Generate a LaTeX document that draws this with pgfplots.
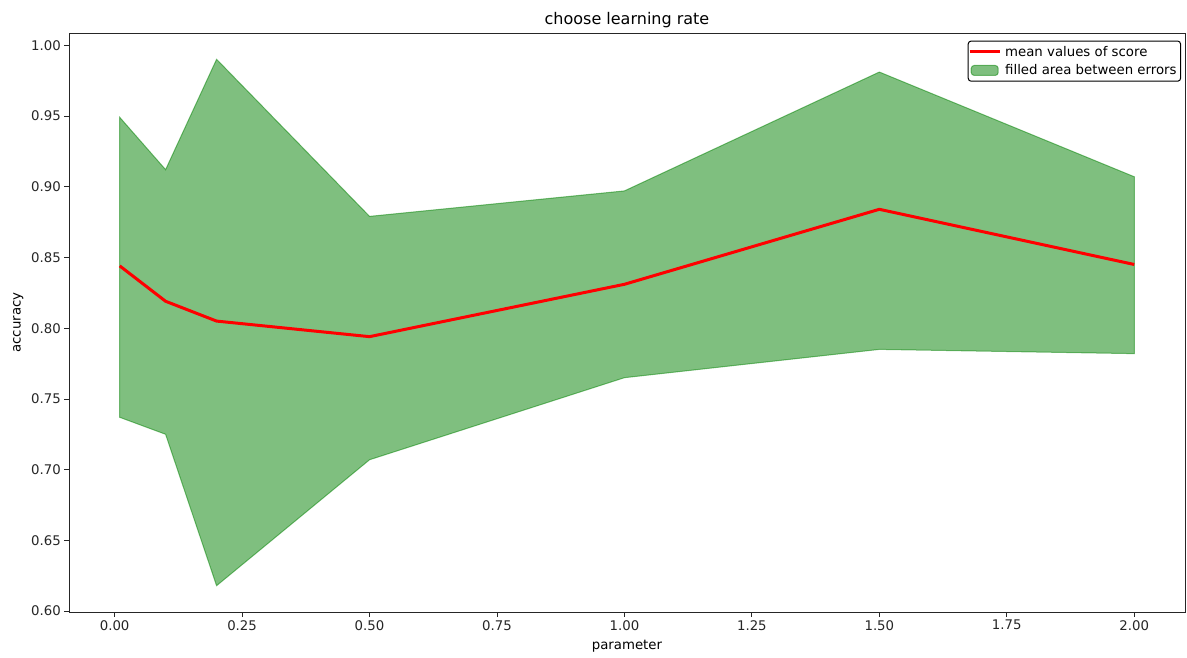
\documentclass[border=0pt]{standalone}
\usepackage{pgfplots}
\pgfplotsset{compat=1.18}
\usepgfplotslibrary{fillbetween}
\usepackage{fontspec}
\setmainfont{DejaVu Sans}
\definecolor{mplgreen}{RGB}{0,128,0}
\definecolor{axcol}{RGB}{38,38,38}
\begin{document}
\begin{tikzpicture}
\begin{axis}[
  at={(0pt,0pt)}, anchor=south west,
  scale only axis, width=1116pt, height=579pt,
  xmin=-0.0895, xmax=2.0995, ymin=0.5994, ymax=1.0086,
  xtick={0,0.25,...,2.0}, ytick={0.60,0.65,...,1.00},
  xticklabel style={/pgf/number format/.cd, fixed, fixed zerofill, precision=2},
  yticklabel style={/pgf/number format/.cd, fixed, fixed zerofill, precision=2},
  /pgf/number format/assume math mode=true,
  tick label style={font=\fontsize{13.3}{15}\selectfont, text=axcol},
  label style={font=\fontsize{13.3}{15}\selectfont},
  title style={font=\fontsize{16}{19}\selectfont, yshift=-4pt},
  tick align=outside, tick pos=left,
  major tick length=4.7pt,
  every tick/.style={axcol, line width=0.8pt},
  axis line style={axcol, line width=0.8pt},
  title={choose learning rate},
  xlabel={parameter}, ylabel={accuracy},
  xlabel style={yshift=-3pt},
  ylabel style={yshift=1pt},
  legend cell align=left,
  legend style={at={(0.9965,0.987)}, anchor=north east, font=\fontsize{13.3}{15}\selectfont,
    draw=black, rounded corners=3pt, line width=1pt, inner xsep=0pt, inner ysep=4pt, row sep=5pt,
    nodes={inner ysep=1pt, inner xsep=4pt}},
]
\addplot[name path=upper, draw=none, forget plot] coordinates {
 (0.01,0.949) (0.1,0.912) (0.2,0.990) (0.5,0.879) (1.0,0.897) (1.5,0.981) (2.0,0.907)};
\addplot[name path=lower, draw=none, forget plot] coordinates {
 (0.01,0.737) (0.1,0.725) (0.2,0.618) (0.5,0.707) (1.0,0.765) (1.5,0.785) (2.0,0.782)};
\addplot[red, line width=3pt,
  legend image code/.code={\draw[red, line width=3pt] (0pt,0pt) -- (30pt,0pt);}] coordinates {
 (0.01,0.844) (0.1,0.819) (0.2,0.805) (0.5,0.794) (1.0,0.831) (1.5,0.884) (2.0,0.845)};
\addlegendentry{mean values of score}
\addplot[fill=mplgreen, fill opacity=0.5, draw=mplgreen, draw opacity=0.5, line width=1pt,
  legend image code/.code={\path[fill=mplgreen, fill opacity=0.5, draw=mplgreen, draw opacity=0.5, line width=1pt] (1.5pt,-5pt) rectangle (28.5pt,5pt);}]
  fill between[of=upper and lower];
\addlegendentry{filled area between errors}
\end{axis}
\pgfresetboundingbox
\path[use as bounding box] (-69pt,-45pt) rectangle (1118pt,612pt);
\end{tikzpicture}
\end{document}
